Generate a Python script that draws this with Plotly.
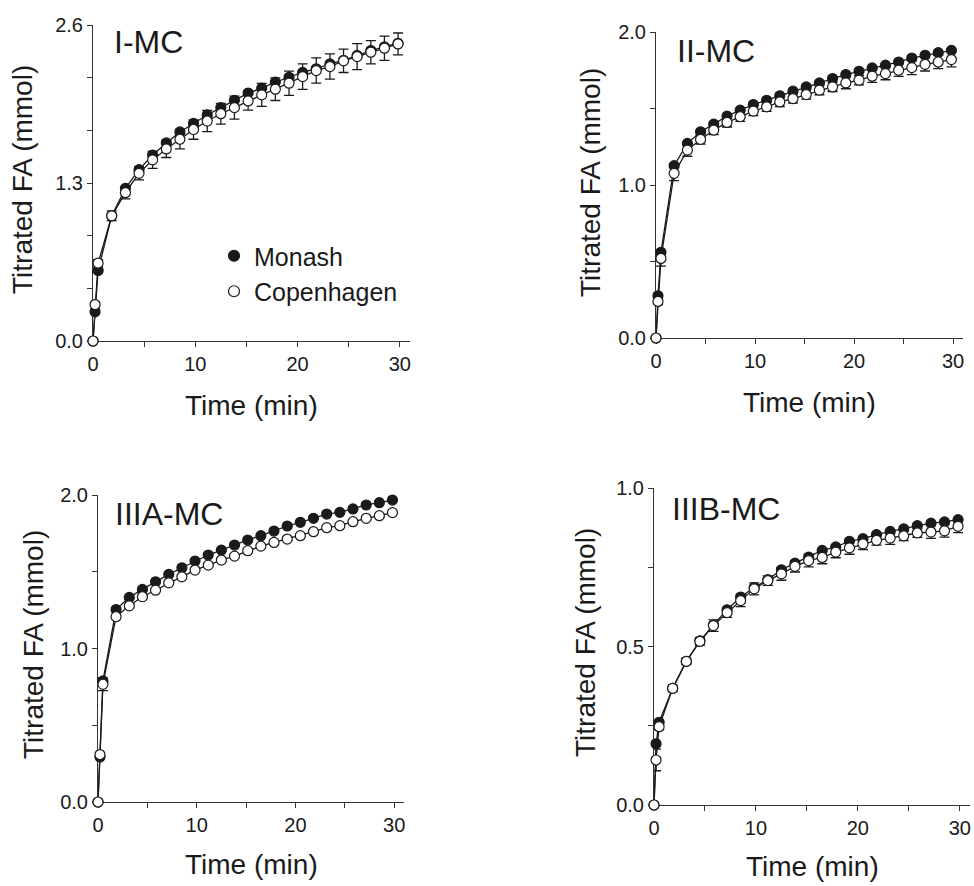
import plotly.graph_objects as go

# ---------------- data ----------------
time_min = [0, 0.2, 0.5, 1.83, 3.17, 4.5, 5.83, 7.17, 8.5, 9.83, 11.17, 12.5, 13.83,
            15.17, 16.5, 17.83, 19.17, 20.5, 21.83, 23.17, 24.5, 25.83, 27.17, 28.5, 29.83]

panel_labels = ["I-MC", "II-MC", "IIIA-MC", "IIIB-MC"]
series_names = ["Monash", "Copenhagen"]

# I-MC
i_monash = [0, 0.24, 0.58, 1.03, 1.256, 1.41, 1.53, 1.63, 1.72, 1.79, 1.86, 1.92, 1.98,
            2.04, 2.08, 2.13, 2.17, 2.21, 2.24, 2.28, 2.31, 2.35, 2.39, 2.42, 2.45]
i_copen = [0, 0.30, 0.64, 1.03, 1.22, 1.38, 1.49, 1.58, 1.66, 1.74, 1.81, 1.87, 1.92,
           1.975, 2.025, 2.072, 2.121, 2.175, 2.225, 2.258, 2.305, 2.34, 2.376, 2.409, 2.444]
i_copen_err = [0, 0.02, 0.03, 0.04, 0.05, 0.055, 0.07, 0.07, 0.08, 0.08, 0.087, 0.085, 0.095,
               0.075, 0.095, 0.093, 0.10, 0.105, 0.104, 0.104, 0.096, 0.107, 0.096, 0.10, 0.09]

# II-MC
ii_monash = [0, 0.276, 0.56, 1.126, 1.272, 1.348, 1.398, 1.45, 1.489, 1.526, 1.554, 1.583, 1.613,
             1.641, 1.667, 1.696, 1.722, 1.743, 1.765, 1.783, 1.804, 1.83, 1.848, 1.865, 1.88]
ii_copen = [0, 0.239, 0.52, 1.076, 1.228, 1.298, 1.359, 1.409, 1.446, 1.483, 1.511, 1.543, 1.565,
            1.591, 1.62, 1.641, 1.667, 1.685, 1.711, 1.728, 1.75, 1.767, 1.789, 1.804, 1.82]
ii_copen_err = [0, 0.02, 0.05, 0.048, 0.04, 0.03, 0.03, 0.03, 0.03, 0.03, 0.03, 0.03, 0.03,
                0.03, 0.03, 0.03, 0.038, 0.03, 0.04, 0.04, 0.04, 0.045, 0.044, 0.044, 0.048]

# IIIA-MC
iiia_monash = [0, 0.293, 0.789, 1.254, 1.333, 1.385, 1.435, 1.483, 1.526, 1.57, 1.609, 1.641, 1.674,
               1.707, 1.735, 1.765, 1.798, 1.822, 1.848, 1.876, 1.887, 1.909, 1.935, 1.95, 1.967]
iiia_copen = [0, 0.309, 0.767, 1.207, 1.278, 1.337, 1.38, 1.428, 1.467, 1.511, 1.543, 1.576, 1.602,
              1.637, 1.667, 1.691, 1.713, 1.735, 1.761, 1.787, 1.80, 1.826, 1.848, 1.865, 1.885]
iiia_copen_err = [0, 0.01, 0.042, 0.01, 0.01, 0.01, 0.01, 0.01, 0.01, 0.01, 0.01, 0.01, 0.01,
                  0.01, 0.01, 0.01, 0.01, 0.01, 0.01, 0.01, 0.01, 0.01, 0.01, 0.01, 0.01]

# IIIB-MC
iiib_monash = [0, 0.193, 0.261, 0.368, 0.453, 0.518, 0.568, 0.616, 0.656, 0.686, 0.711, 0.742, 0.763,
               0.782, 0.803, 0.814, 0.832, 0.84, 0.853, 0.863, 0.871, 0.881, 0.889, 0.893, 0.90]
iiib_copen = [0, 0.142, 0.247, 0.368, 0.453, 0.516, 0.566, 0.607, 0.645, 0.682, 0.708, 0.729, 0.753,
              0.771, 0.781, 0.798, 0.811, 0.824, 0.835, 0.842, 0.849, 0.858, 0.861, 0.865, 0.879]
iiib_copen_err = [0, 0.034, 0.01, 0.01, 0.01, 0.012, 0.018, 0.015, 0.019, 0.019, 0.015, 0.02, 0.018,
                  0.02, 0.02, 0.018, 0.02, 0.018, 0.015, 0.02, 0.015, 0.014, 0.02, 0.02, 0.02]

x_ticks = [0, 10, 20, 30]
x_minor = [5, 15, 25]
y_ticks = [[0, 1.3, 2.6], [0, 1.0, 2.0], [0, 1.0, 2.0], [0, 0.5, 1.0]]
y_minor = [[0.4333, 0.8667, 1.7333, 2.1667], [0.5, 1.5], [0.5, 1.5], [0.25, 0.75]]

x_title = "Time (min)"
y_title = "Titrated FA (mmol)"

monash_all = [i_monash, ii_monash, iiia_monash, iiib_monash]
copen_all = [i_copen, ii_copen, iiia_copen, iiib_copen]
err_all = [i_copen_err, ii_copen_err, iiia_copen_err, iiib_copen_err]

# ---------------- layout geometry (pixels) ----------------
W, H = 974, 886
FONT = "Liberation Sans, Arial, sans-serif"
INK = "#1a1a1a"
AX = "#333333"

# (x0px, x1px, ybottom_px, ytop_px)
geo = [(93, 410, 341, 25), (656, 963, 338, 32), (98, 404, 802, 495), (654, 970, 805, 488)]
x_title_pos = [(251.5, 405), (809.5, 402), (251, 864), (812, 866)]
y_title_pos = [(23, 180), (590, 183), (33, 645), (585, 643)]
label_pos = [(112, 42), (675, 51), (113, 514), (670, 509)]

fig = go.Figure()
layout = dict(width=W, height=H, margin=dict(l=0, r=0, t=0, b=0, autoexpand=False),
              paper_bgcolor="white", plot_bgcolor="white", showlegend=True,
              font=dict(family=FONT, color=INK))
annotations = []

for i in range(4):
    x0, x1, yb, yt = geo[i]
    sx = "" if i == 0 else str(i + 1)
    xa, ya = "x" + sx, "y" + sx
    common = dict(showline=True, linecolor=AX, linewidth=1, ticks="outside", ticklen=5,
                  tickwidth=1, tickcolor=AX, showgrid=False, zeroline=False, automargin=False,
                  layer="below traces",
                  tickfont=dict(size=20, family=FONT, color=INK))
    layout["xaxis" + sx] = dict(domain=[x0 / W, x1 / W], range=[0, 31], anchor=ya,
                                tickvals=x_ticks, ticktext=[str(v) for v in x_ticks],
                                minor=dict(tickvals=x_minor, ticks="outside", ticklen=5,
                                           tickcolor=AX, tickwidth=1),
                                **common)
    layout["yaxis" + sx] = dict(domain=[1 - yb / H, 1 - yt / H],
                                range=[0, y_ticks[i][-1]], anchor=xa,
                                tickvals=y_ticks[i], tickformat=".1f",
                                minor=dict(tickvals=y_minor[i], ticks="outside", ticklen=5,
                                           tickcolor=AX, tickwidth=1),
                                **common)

    fig.add_trace(go.Scatter(x=time_min, y=monash_all[i], mode="lines+markers",
                             xaxis=xa, yaxis=ya, showlegend=False, cliponaxis=False,
                             name=series_names[0],
                             line=dict(color=INK, width=1.3),
                             marker=dict(symbol="circle", size=10, color=INK,
                                         line=dict(color=INK, width=1.2))))
    fig.add_trace(go.Scatter(x=time_min, y=copen_all[i], mode="lines+markers",
                             xaxis=xa, yaxis=ya, showlegend=False, cliponaxis=False,
                             name=series_names[1],
                             error_y=dict(type="data", array=err_all[i], visible=True,
                                          color=INK, thickness=1.3, width=5),
                             line=dict(color=INK, width=1.3),
                             marker=dict(symbol="circle", size=10, color="white",
                                         line=dict(color=INK, width=1.2))))

    tx, ty = x_title_pos[i]
    annotations.append(dict(text=x_title, x=tx / W, y=1 - ty / H, xref="paper", yref="paper",
                            xanchor="center", yanchor="middle", showarrow=False, borderpad=0,
                            font=dict(size=28, family=FONT, color=INK)))
    tx, ty = y_title_pos[i]
    annotations.append(dict(text=y_title, x=tx / W, y=1 - ty / H, xref="paper", yref="paper",
                            xanchor="center", yanchor="middle", showarrow=False, textangle=-90,
                            font=dict(size=28, family=FONT, color=INK)))
    lx, ly = label_pos[i]
    annotations.append(dict(text=panel_labels[i], x=lx / W, y=1 - ly / H, xref="paper",
                            yref="paper", xanchor="left", yanchor="middle", showarrow=False,
                            font=dict(size=32, family=FONT, color=INK)))

# legend-only entries (marker only)
fig.add_trace(go.Scatter(x=[None], y=[None], mode="markers", name=series_names[0],
                         marker=dict(symbol="circle", size=11, color=INK,
                                     line=dict(color=INK, width=1.2))))
fig.add_trace(go.Scatter(x=[None], y=[None], mode="markers", name=series_names[1],
                         marker=dict(symbol="circle", size=11, color="white",
                                     line=dict(color=INK, width=1.2))))

layout["legend"] = dict(x=214 / W, y=1 - 233 / H, xanchor="left", yanchor="top",
                        bgcolor="rgba(0,0,0,0)", borderwidth=0,
                        font=dict(size=25, family=FONT, color=INK),
                        itemwidth=30, tracegroupgap=0)
layout["annotations"] = annotations
fig.update_layout(**layout)

fig.write_html("out.html")
